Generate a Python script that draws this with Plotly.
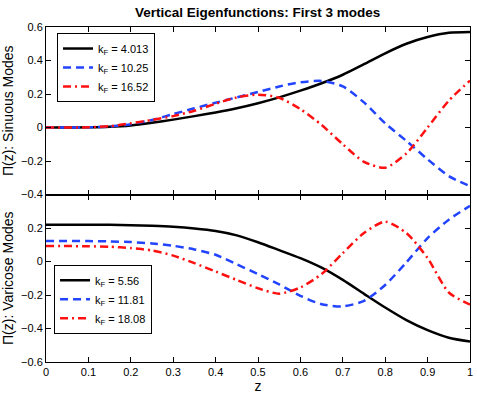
import plotly.graph_objects as go

# z grid and mode shapes
z = [0, 0.05, 0.1, 0.15, 0.2, 0.25, 0.3, 0.35, 0.4, 0.45, 0.5,
     0.55, 0.6, 0.65, 0.7, 0.75, 0.8, 0.85, 0.9, 0.95, 1]

sin_k = ["4.013", "10.25", "16.52"]
sin_1 = [0, 0, 0.001, 0.004, 0.012, 0.028, 0.047, 0.068, 0.09, 0.115, 0.145,
         0.18, 0.22, 0.264, 0.315, 0.378, 0.443, 0.5, 0.54, 0.565, 0.57]
sin_2 = [0, 0, 0.001, 0.006, 0.02, 0.045, 0.08, 0.115, 0.148, 0.18, 0.212,
         0.245, 0.27, 0.278, 0.245, 0.15, 0.025, -0.08, -0.19, -0.29, -0.35]
sin_3 = [0, 0, 0.001, 0.008, 0.025, 0.045, 0.068, 0.1, 0.142, 0.18, 0.196,
         0.178, 0.11, 0.015, -0.1, -0.205, -0.24, -0.155, 0.0, 0.16, 0.28]

var_k = ["5.56", "11.81", "18.08"]
var_1 = [0.22, 0.22, 0.22, 0.219, 0.217, 0.213, 0.207, 0.197, 0.182, 0.156, 0.115,
         0.068, 0.02, -0.037, -0.11, -0.193, -0.275, -0.35, -0.41, -0.455, -0.478]
var_2 = [0.123, 0.123, 0.122, 0.12, 0.116, 0.108, 0.094, 0.072, 0.04, -0.017, -0.075,
         -0.137, -0.205, -0.255, -0.268, -0.235, -0.14, -0.005, 0.14, 0.25, 0.332]
var_3 = [0.092, 0.092, 0.091, 0.088, 0.08, 0.066, 0.035, -0.01, -0.06, -0.11, -0.16,
         -0.192, -0.155, -0.075, 0.05, 0.17, 0.238, 0.17, 0.02, -0.185, -0.257]

colors = ["#000000", "#2244ff", "#ff1010"]
dashes = ["solid", "8px,5px", "8px,4px,2px,4px"]
font = "Liberation Sans, Arial, sans-serif"

fig = go.Figure()

for k, ys, c, d in zip(sin_k, [sin_1, sin_2, sin_3], colors, dashes):
    fig.add_trace(go.Scatter(
        x=z, y=ys, mode="lines", name="k<sub>F</sub> = " + k,
        line=dict(color=c, width=2.5, dash=d, shape="spline", smoothing=0.7),
        xaxis="x", yaxis="y", legend="legend"))

for k, ys, c, d in zip(var_k, [var_1, var_2, var_3], colors, dashes):
    fig.add_trace(go.Scatter(
        x=z, y=ys, mode="lines", name="k<sub>F</sub> = " + k,
        line=dict(color=c, width=2.5, dash=d, shape="spline", smoothing=0.7),
        xaxis="x2", yaxis="y2", legend="legend2"))

ax = dict(showline=True, linecolor="black", linewidth=1, mirror="ticks",
          ticks="inside", ticklen=5, tickcolor="black", showgrid=False,
          zeroline=False, automargin=False,
          tickfont=dict(size=11, color="black"))
xticks = [0, 0.1, 0.2, 0.3, 0.4, 0.5, 0.6, 0.7, 0.8, 0.9, 1]

fig.update_layout(
    template="none",
    width=477, height=395,
    margin=dict(l=46, r=7, t=27, b=33),
    paper_bgcolor="white", plot_bgcolor="white",
    font=dict(family=font, size=12, color="black"),
    showlegend=True,
    title=dict(text="<b>Vertical Eigenfunctions: First 3 modes</b>",
               x=0.54, xanchor="center", y=0.97, yanchor="middle",
               font=dict(size=13.5)),
    xaxis=dict(ax, domain=[0, 1], anchor="y", range=[0, 1], tickvals=xticks,
               showticklabels=False),
    xaxis2=dict(ax, domain=[0, 1], anchor="y2", range=[0, 1], tickvals=xticks,
                ticktext=["0", "0.1", "0.2", "0.3", "0.4", "0.5",
                          "0.6", "0.7", "0.8", "0.9", "1"],
                title=dict(text="z", standoff=2)),
    yaxis=dict(ax, domain=[0.5, 1], anchor="x", range=[-0.4, 0.6],
               tickvals=[-0.4, -0.2, 0, 0.2, 0.4, 0.6],
               ticktext=["\u22120.4", "\u22120.2", "0", "0.2", "0.4", "0.6"],
               title=dict(text="\u03a0(z): Sinuous Modes", standoff=4)),
    yaxis2=dict(ax, domain=[0, 0.5], anchor="x2", range=[-0.6, 0.4],
                tickvals=[-0.6, -0.4, -0.2, 0, 0.2, 0.4],
                ticktext=["\u22120.6", "\u22120.4", "\u22120.2", "0", "0.2", ""],
                title=dict(text="\u03a0(z): Varicose Modes", standoff=4)),
    legend=dict(x=0.026, y=0.982, xanchor="left", yanchor="top",
                bgcolor="white", bordercolor="black", borderwidth=1,
                itemwidth=30, font=dict(size=11), tracegroupgap=0),
    legend2=dict(x=0.019, y=0.084, xanchor="left", yanchor="bottom",
                 bgcolor="white", bordercolor="black", borderwidth=1,
                 itemwidth=30, font=dict(size=11), tracegroupgap=0),
)

fig.write_html("out.html", config={"displayModeBar": False},
               post_script="document.body.style.margin='0';")
